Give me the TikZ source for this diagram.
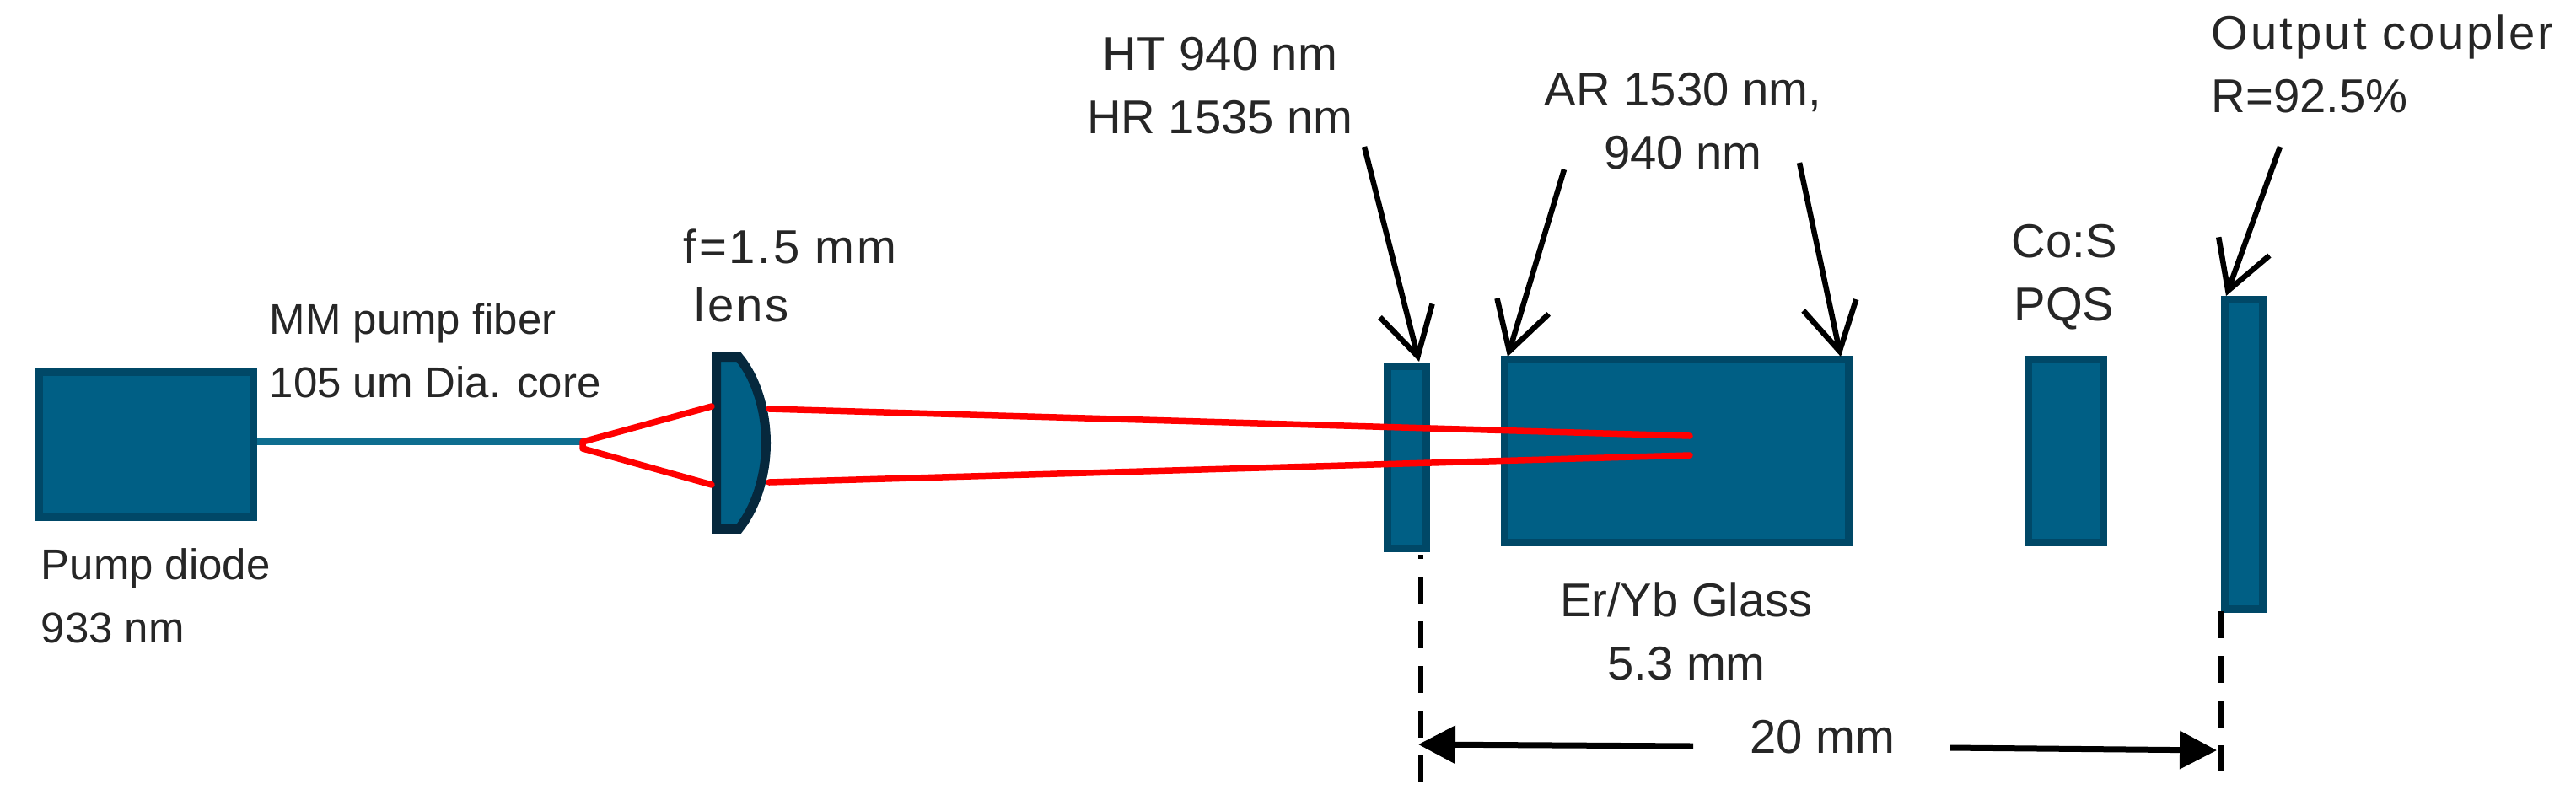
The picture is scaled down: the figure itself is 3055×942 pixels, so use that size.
\documentclass[tikz,border=0pt]{standalone}
\usepackage{xcolor}
\usepackage{fontspec}
\setmainfont{Liberation Sans}
\usetikzlibrary{arrows.meta}

\definecolor{boxfill}{HTML}{005F85}
\definecolor{boxedge}{HTML}{004867}
\definecolor{lensedge}{HTML}{06283D}
\definecolor{fibercol}{HTML}{0E6E90}

\tikzset{
    optbox/.style={draw=boxedge,fill=boxfill,line width=.9mm,inner sep=0pt},
    caption/.style={inner sep=0pt,align=center,text=black!85,font=\fontsize{16}{21.3}\selectfont},
    smallcaption/.style={caption,anchor=base west,align=left,font=\fontsize{14.5}{21.3}\selectfont},
    pointer/.style={-{Straight Barb[length=5.6mm,width=6.4mm,line width=.65mm]},line width=.65mm,black},
    dimarrow/.style={-{Triangle[length=4.4mm,width=4.4mm]},line width=.7mm,black},
    dimline/.style={line width=.55mm,black,dash pattern=on 3.2mm off 2.1mm},
    beam/.style={line width=.75mm,red,line cap=round,line join=round}
}

\begin{document}
\begin{tikzpicture}[x=.1mm,y=-.1mm]
    \useasboundingbox (0,0) rectangle (3055,942);

    \node[optbox,minimum width=25.4mm,minimum height=17.2mm] (diode)   at (173.5,527.5) {};
    \node[optbox,minimum width=4.6mm, minimum height=21.6mm] (hrmirror) at (1668.5,542.5) {};
    \node[optbox,minimum width=40.8mm,minimum height=21.7mm] (crystal) at (1988.5,535) {};
    \node[optbox,minimum width=8.9mm, minimum height=21.7mm] (pqs)     at (2450,535) {};
    \node[optbox,minimum width=4.5mm, minimum height=36.7mm] (coupler) at (2661,539) {};

    % fiber and lens
    \coordinate (fiberend) at (691,524);
    \draw[line width=.8mm,fibercol] (diode.east |- fiberend) -- (fiberend);
    \draw[line width=1.1mm,draw=lensedge,fill=boxfill] (849.5,423.5) -- (876,423.5)
        .. controls (898,450) and (908.5,490) .. (908.5,525.5)
        .. controls (908.5,561) and (898,600) .. (876,627.5) -- (849.5,627.5) -- cycle;

    % pump beam
    \coordinate (lensupin)  at (844,482);
    \coordinate (lenslowin) at (844,575);
    \coordinate (lensupout)  at (912,485);
    \coordinate (lenslowout) at (912,572);
    \coordinate (focusup)  at (2004,517);
    \coordinate (focuslow) at (2004,540);
    \draw[beam] (lensupin) -- (fiberend) -- (691,532) -- (lenslowin);
    \draw[beam] (lensupout) -- (focusup);
    \draw[beam] (lenslowout) -- (focuslow);

    % labels
    \node[smallcaption] (fiberlabel) at (319,471) {MM pump fiber\\105 um Dia. core};
    \node[smallcaption] (diodelabel) at (48,762) {Pump diode\\933 nm};
    \node[caption,anchor=base west,align=left,font=\fontsize{16}{19.6}\selectfont\addfontfeature{LetterSpace=5}] (lenslabel) at (810,381) {f=1.5 mm\\\hspace*{1.3mm}lens};
    \node[caption,anchor=base] (hrlabel) at (1447,158) {HT 940 nm\\HR 1535 nm};
    \node[caption,anchor=base] (arlabel) at (1996,200) {AR 1530 nm,\\940 nm};
    \node[caption,anchor=base] (pqslabel) at (2448,380) {Co:S\\PQS};
    \node[caption,anchor=base west,align=left] (couplerlabel) at (2622,133) {{\addfontfeature{LetterSpace=5.5}Output coupler}\\R=92.5\%};
    \node[caption,anchor=base] (crystallabel) at (2000,806) {Er/Yb Glass\\5.3 mm};
    \node[caption,anchor=base] (dimlabel) at (2161,893) {20 mm};

    % pointers
    \coordinate (hrfrom) at (1618,174);
    \coordinate (hrtip)  at (1683,429);
    \coordinate (arfroma) at (1855,201);
    \coordinate (artipa)  at (1788,423);
    \coordinate (arfromb) at (2134,193);
    \coordinate (artipb)  at (2183,423);
    \coordinate (ocfrom) at (2704,174);
    \coordinate (octip)  at (2640,351);
    \draw[pointer] (hrfrom) -- (hrtip);
    \draw[pointer] (arfroma) -- (artipa);
    \draw[pointer] (arfromb) -- (artipb);
    \draw[pointer] (ocfrom) -- (octip);

    % 20 mm dimension
    \coordinate (dimlefttop) at (1685,658);
    \coordinate (dimleftbot) at (1685,927);
    \coordinate (dimrighttop) at (2634,725);
    \coordinate (dimrightbot) at (2634,915);
    \draw[dimline,dash phase=2.7mm] (dimlefttop) -- (dimleftbot);
    \draw[dimline] (dimrighttop) -- (dimrightbot);
    \coordinate (dimtailleft) at (2008,885);
    \coordinate (dimtipleft)  at (1682,883);
    \coordinate (dimtailright) at (2313,887);
    \coordinate (dimtipright)  at (2629,890);
    \draw[dimarrow] (dimtailleft) -- (dimtipleft);
    \draw[dimarrow] (dimtailright) -- (dimtipright);
\end{tikzpicture}
\end{document}
